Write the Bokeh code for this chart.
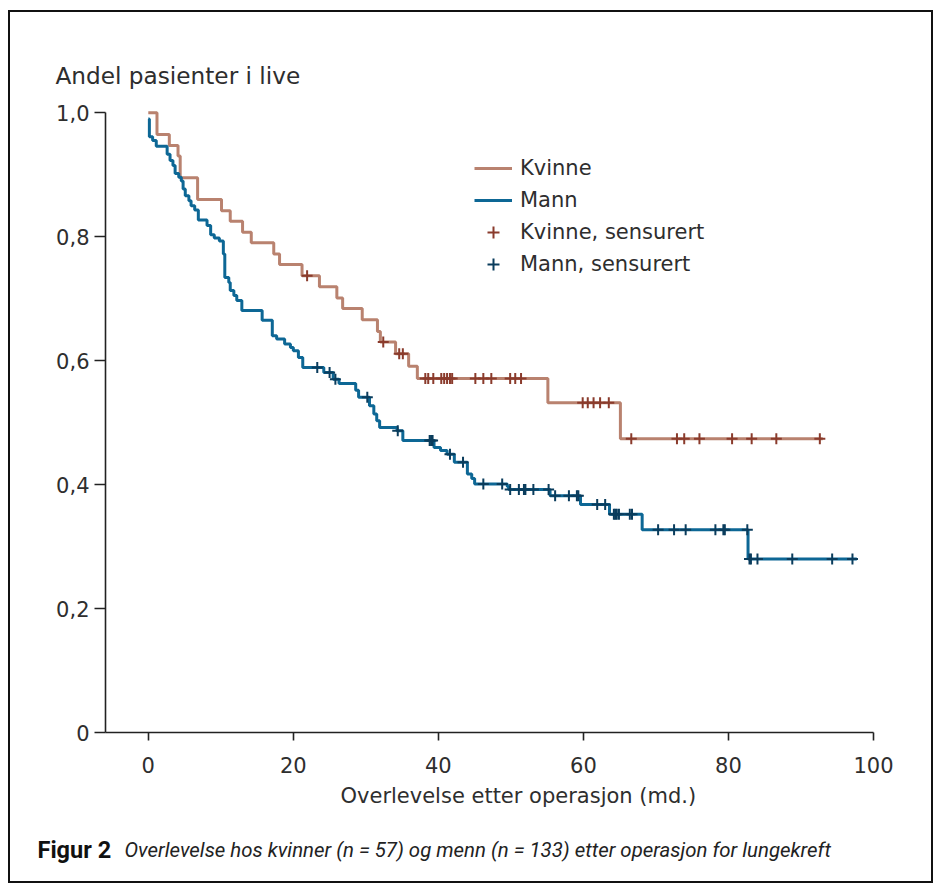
import numpy as np
from bokeh.plotting import figure
from bokeh.layouts import column
from bokeh.models import (Legend, LegendItem, FixedTicker, Title,
                          CustomJSTickFormatter, Range1d)
from bokeh.core.properties import value
from bokeh.embed import file_html
from bokeh.resources import INLINE

# ---------------- data ----------------
kvinne_t = [0, 1.2, 2.9, 4.1, 4.4, 6.8, 10.1, 11.3, 13.0, 14.2, 17.3, 18.1,
            21.2, 23.6, 26.0, 26.8, 29.5, 31.6, 32.0, 34.1, 35.9, 37.1,
            55.1, 65.1]
kvinne_s = [1.0, 0.965, 0.947, 0.930, 0.895, 0.860, 0.842, 0.825, 0.807,
            0.790, 0.772, 0.755, 0.737, 0.719, 0.701, 0.684, 0.666, 0.647,
            0.630, 0.611, 0.591, 0.571, 0.532, 0.474]
kvinne_end = 93.0
kvinne_cens = [21.9, 32.4, 34.6, 35.1, 38.2, 38.6, 39.3, 40.4, 40.8, 41.2,
               41.6, 41.9, 45.1, 46.2, 47.3, 49.9, 50.6, 51.4, 59.9, 60.6,
               61.4, 62.3, 63.5, 66.6, 72.9, 73.9, 76.0, 80.5, 83.2, 86.6,
               92.6]

mann_t = [0, 0.15, 0.6, 1.1, 2.6, 3.0, 3.4, 3.7, 4.2, 4.55, 4.8, 5.1, 5.6,
          5.9, 6.4, 6.9, 8.1, 8.6, 9.1, 9.8, 10.35, 10.55, 11.1, 11.3, 11.8,
          12.2, 12.9, 15.7, 17.1, 17.7, 18.8, 19.6, 20.0, 20.7, 21.3, 24.2,
          25.5, 26.3, 28.6, 29.0, 30.5, 31.1, 31.5, 31.9, 34.3, 35.1, 39.4,
          40.3, 41.2, 42.2, 44.0, 44.6, 45.0, 49.5, 49.7, 55.4, 59.6, 63.6,
          68.1, 82.7]
mann_s = [0.99, 0.961, 0.955, 0.946, 0.933, 0.923, 0.915, 0.902, 0.896,
          0.890, 0.877, 0.866, 0.858, 0.850, 0.843, 0.827, 0.818, 0.803,
          0.798, 0.793, 0.772, 0.734, 0.726, 0.713, 0.705, 0.697, 0.681,
          0.665, 0.640, 0.635, 0.627, 0.621, 0.616, 0.605, 0.589, 0.581,
          0.570, 0.563, 0.552, 0.541, 0.527, 0.514, 0.503, 0.492, 0.487,
          0.471, 0.460, 0.455, 0.449, 0.436, 0.417, 0.410, 0.401, 0.397,
          0.392, 0.382, 0.368, 0.352, 0.327, 0.280]
mann_end = 97.7
mann_cens = [23.3, 25.0, 25.8, 30.2, 34.4, 38.8, 39.0, 39.2, 41.6, 43.4,
             46.2, 48.8, 49.9, 51.1, 51.8, 52.0, 53.1, 55.2, 56.1, 58.0,
             59.1, 59.3, 61.9, 63.0, 64.2, 64.4, 64.6, 64.9, 66.4, 66.7,
             70.3, 72.5, 74.1, 78.2, 79.3, 79.5, 82.6, 82.9, 83.1, 84.0,
             88.8, 94.3, 97.1]

x_ticks = [0, 20, 40, 60, 80, 100]
y_ticks = [0, 0.2, 0.4, 0.6, 0.8, 1.0]

series_names = ["Kvinne", "Mann", "Kvinne, sensurert", "Mann, sensurert"]
x_title = "Overlevelse etter operasjon (md.)"
y_title = "Andel pasienter i live"
caption_bold = "Figur 2"
caption_text = ("Overlevelse hos kvinner (n = 57) og menn (n = 133) "
                "etter operasjon for lungekreft")

# ---------------- styling ----------------
K_LINE = "#b9826f"
K_CENS = "#8a3b2c"
M_LINE = "#0d6795"
M_CENS = "#0a3c5c"
TXT = "#2e2e2e"
FONT = "DejaVu Sans"
FS = "21px"


def step_xy(t, s, end):
    return list(t) + [end], list(s) + [s[-1]]


def cens_y(t, s, c):
    idx = np.searchsorted(np.array(t), np.array(c), side="right") - 1
    return [s[i] for i in idx]


p = figure(width=921, height=810,
           x_range=Range1d(-5.9, 100), y_range=Range1d(0, 1.01),
           output_backend="svg", toolbar_location=None,
           min_border_left=95, min_border_right=58,
           min_border_top=94, min_border_bottom=90, frame_align=False)
p.outline_line_color = None
p.xgrid.visible = False
p.ygrid.visible = False

kx, ky = step_xy(kvinne_t, kvinne_s, kvinne_end)
mx, my = step_xy(mann_t, mann_s, mann_end)
r_k = p.step(kx, ky, mode="after", line_color=K_LINE, line_width=3)
r_m = p.step(mx, my, mode="after", line_color=M_LINE, line_width=3)
r_kc = p.scatter(kvinne_cens, cens_y(kvinne_t, kvinne_s, kvinne_cens),
                 marker="cross", size=11, line_color=K_CENS, line_width=2)
r_mc = p.scatter(mann_cens, cens_y(mann_t, mann_s, mann_cens),
                 marker="cross", size=11, line_color=M_CENS, line_width=2)

for ax in (p.xaxis[0], p.yaxis[0]):
    ax.axis_line_color = "#222"
    ax.axis_line_width = 1.6
    ax.major_tick_line_color = "#222"
    ax.major_tick_line_width = 1.6
    ax.major_tick_in = 0
    ax.minor_tick_in = 0
    ax.minor_tick_out = 0
    ax.major_label_text_font = FONT
    ax.major_label_text_font_size = FS
    ax.major_label_text_color = TXT

p.xaxis.ticker = FixedTicker(ticks=x_ticks)
p.yaxis.ticker = FixedTicker(ticks=y_ticks)
p.yaxis.bounds = (0, 1)
p.xaxis.major_tick_out = 8
p.yaxis.major_tick_out = 11
p.xaxis.major_label_standoff = 16
p.yaxis.major_label_standoff = 5
p.yaxis.formatter = CustomJSTickFormatter(
    code="return tick == 0 ? '0' : tick.toFixed(1).replace('.', ',');")

legend = Legend(items=[LegendItem(label=series_names[0], renderers=[r_k]),
                       LegendItem(label=series_names[1], renderers=[r_m]),
                       LegendItem(label=series_names[2], renderers=[r_kc]),
                       LegendItem(label=series_names[3], renderers=[r_mc])],
                location=(369, 453), padding=0, margin=0, spacing=2,
                glyph_width=38, glyph_height=30, label_height=30,
                label_standoff=8, label_text_font=FONT,
                label_text_font_size=FS, label_text_color=TXT,
                border_line_alpha=0, background_fill_alpha=0)
p.add_layout(legend)

p.add_layout(Title(text=y_title, align="left", offset=-50, standoff=36,
                   text_font=FONT, text_font_size="23.2px",
                   text_font_style="normal", text_color=TXT), "above")
p.add_layout(Title(text=x_title, align="left", offset=235, standoff=12,
                   text_font=FONT, text_font_size=FS,
                   text_font_style="normal", text_color=TXT), "below")

# caption strip
c = figure(width=921, height=59, x_range=Range1d(0, 921),
           y_range=Range1d(0, 59), x_axis_type=None, y_axis_type=None,
           output_backend="svg", toolbar_location=None, min_border=0,
           frame_align=False)
c.outline_line_color = None
c.text(x=[27], y=[32], text=[caption_bold], text_font=value("Roboto"),
       text_font_style="bold", text_font_size="23.5px", text_color="#111",
       text_baseline="middle", text_align="left")
c.text(x=[114], y=[32], text=[caption_text], text_font=value("Roboto"),
       text_font_style="italic", text_font_size="20.4px", text_color="#222",
       text_baseline="middle", text_align="left")

layout = column(p, c, spacing=0,
                styles={"border": "2px solid #111", "margin": "10px 0 0 8px"})

open("out.html", "w").write(file_html(layout, INLINE))
